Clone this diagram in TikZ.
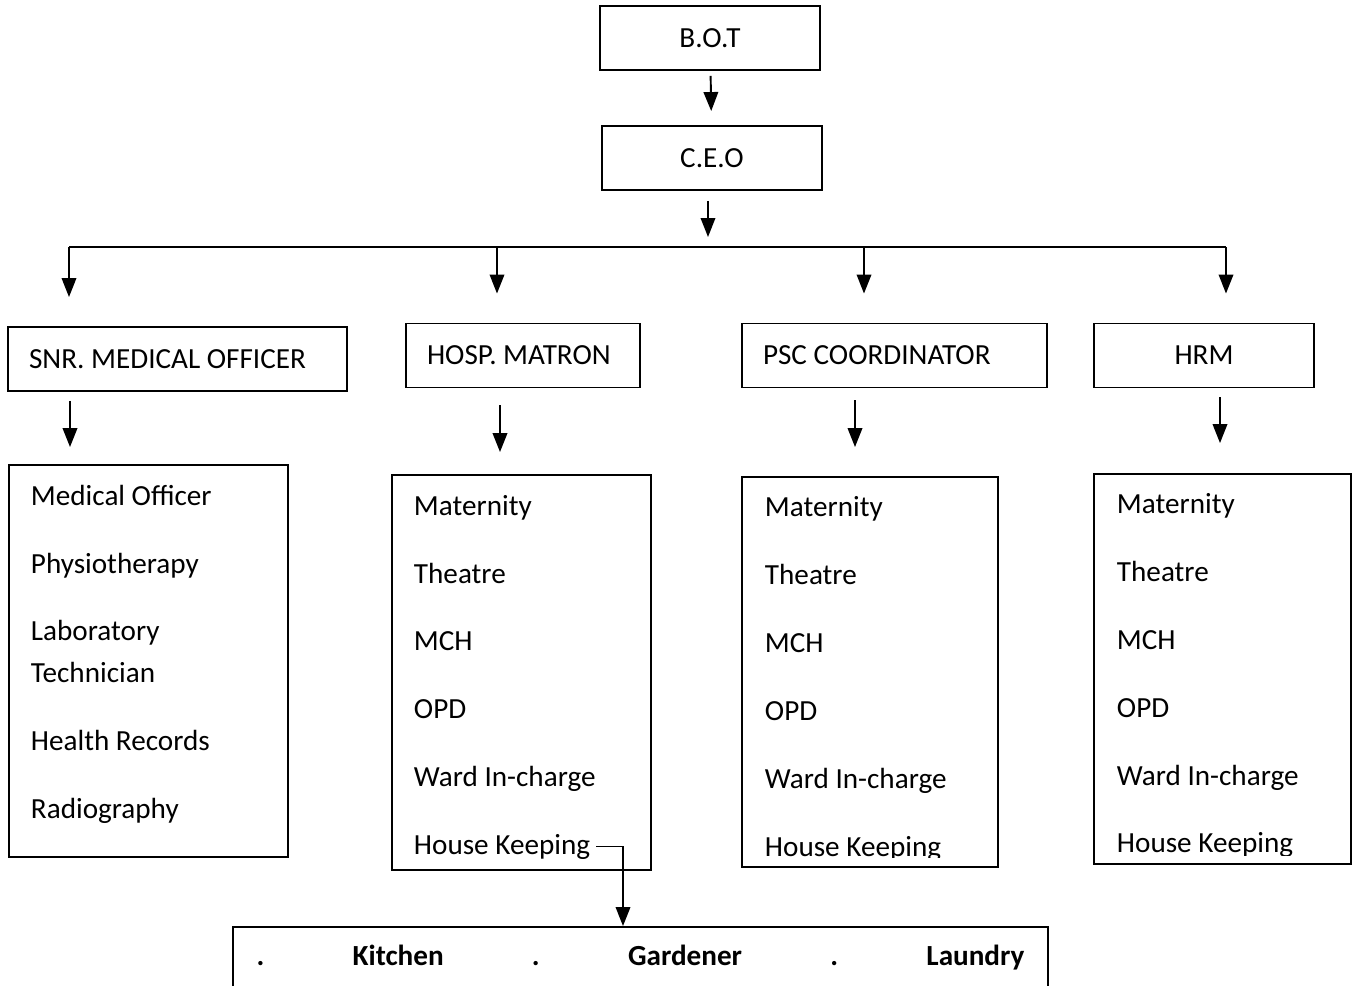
\documentclass[tikz,border=0pt]{standalone}
\usepackage{fontspec}
\setmainfont{Carlito}
\usetikzlibrary{arrows.meta}

\begin{document}
\begin{tikzpicture}[x=0.02cm,y=-0.02cm,>={Triangle[length=3.8mm,width=2.9mm]},line width=1.1pt,font=\fontsize{16.6}{20}\selectfont\frenchspacing]
        \tikzstyle{box} = [rectangle, draw, minimum height=1.28cm, inner sep=0pt]
        \tikzstyle{head} = [box, align=flush left, inner xsep=0.42cm]
        \tikzstyle{list} = [rectangle, draw]
        \tikzstyle{item} = [anchor=base west, inner sep=0pt]
        \tikzstyle{arrow} = [->]

        \clip (0,0) rectangle (1353,985);

        % Top of the chart
        \node[box, minimum width=4.4cm] (bot) at (710,38) {B.O.T};
        \node[box, minimum width=4.4cm] (ceo) at (712,158) {C.E.O};

        % Heads
        \node[head, text width=5.94cm] (snr) at (177.5,359) {SNR. MEDICAL OFFICER};
        \node[head, text width=3.84cm] (hosp) at (523,355.5) {HOSP. MATRON};
        \node[head, text width=5.26cm] (psc) at (894.5,355.5) {PSC COORDINATOR};
        \node[box, minimum width=4.4cm] (hrm) at (1204,355.5) {HRM};

        % Lists
        \node[list, minimum width=5.58cm, minimum height=7.84cm] (lsnr) at (148.5,661) {};
        \node[list, minimum width=5.18cm, minimum height=7.9cm] (lhosp) at (521.5,672.5) {};
        \node[list, minimum width=5.12cm, minimum height=7.8cm] (lpsc) at (870,672) {};
        \node[list, minimum width=5.14cm, minimum height=7.8cm] (lhrm) at (1222.5,669) {};

        \foreach \t/\y [count=\i] in {Medical Officer/505, Physiotherapy/573, Laboratory/640, Technician/682, Health Records/750, Radiography/818}
            \node[item] (med-\i) at (30,\y) {\t};
        \foreach \t/\y [count=\i] in {Maternity/515, Theatre/583, MCH/650, OPD/718, Ward In-charge/786, House Keeping/854}
            \node[item] (mat-\i) at (413,\y) {\t};
        \begin{scope}
            \clip (742,477) rectangle (998,857);
            \foreach \t/\y [count=\i] in {Maternity/516, Theatre/584, MCH/652, OPD/720, Ward In-charge/788, House Keeping/856}
                \node[item] (co-\i) at (764,\y) {\t};
        \end{scope}
        \begin{scope}
            \clip (1094,474) rectangle (1351,855);
            \foreach \t/\y [count=\i] in {Maternity/513, Theatre/581, MCH/649, OPD/717, Ward In-charge/785, House Keeping/852}
                \node[item] (hr-\i) at (1116,\y) {\t};
        \end{scope}

        % Services under house keeping
        \node[rectangle, draw, text width=15.36cm, inner xsep=0.47cm, minimum height=1.24cm, align=left, font=\fontsize{16.6}{20}\selectfont\bfseries] (svc) at (640.5,958)
            {.\hfill Kitchen\hfill.\hfill Gardener\hfill.\hfill Laundry};

        % Bus line
        \coordinate (d1) at (69,247);
        \coordinate (d2) at (497,247);
        \coordinate (d3) at (864,247);
        \coordinate (d4) at (1226,247);
        \coordinate (e1) at (70,0);
        \coordinate (e2) at (500,0);
        \coordinate (e3) at (855,0);
        \coordinate (e4) at (1220,0);
        \coordinate (cs) at (708,0);
        \coordinate (hk) at (623,0);

        % Arrows
        \draw[arrow, shorten <=0.1cm, shorten >=0.28cm] (bot) -- (ceo);
        \draw[arrow, shorten <=0.2cm, shorten >=0.2cm] (ceo.south -| cs) -- (cs |- d1);
        \draw (d1) -- (d4);
        \foreach \d/\n in {d1/snr, d2/hosp, d3/psc, d4/hrm}
            \draw[arrow, shorten >=0.58cm] (\d) -- (\d |- \n.north);
        \foreach \a/\b/\e/\s/\t in {snr/lsnr/e1/0.18/0.34, hosp/lhosp/e2/0.34/0.44, psc/lpsc/e3/0.24/0.58, hrm/lhrm/e4/0.18/0.6}
            \draw[arrow, shorten <=\s cm, shorten >=\t cm] (\a.south -| \e) -- (\b.north -| \e);
        \draw[arrow, shorten <=0.1cm] (mat-6.east) -| (svc.north -| hk);
\end{tikzpicture}
\end{document}
